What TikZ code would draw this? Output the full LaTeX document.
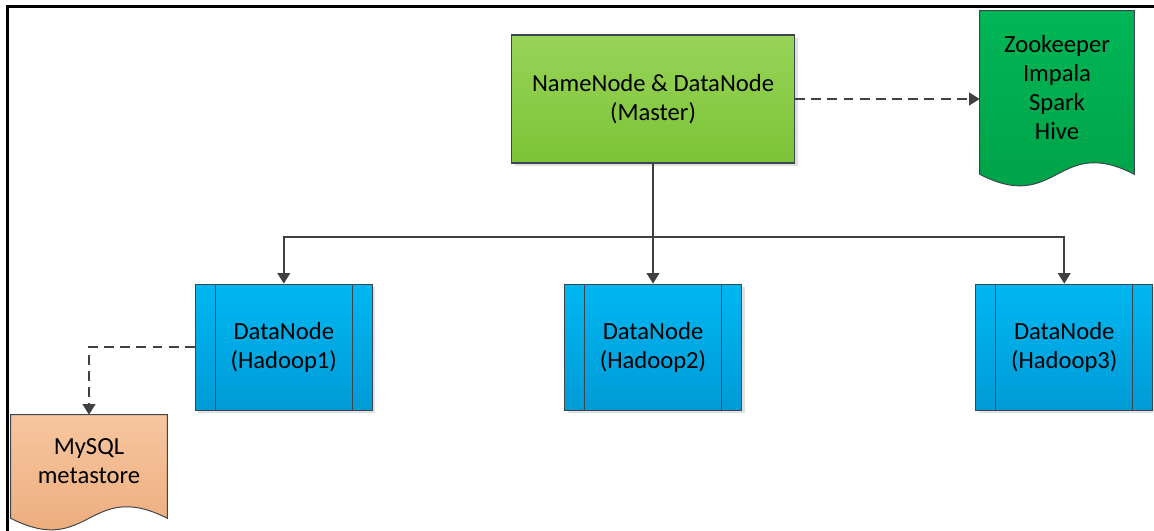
\documentclass[tikz,border=0pt]{standalone}
\usepackage{fontspec}
\setmainfont{Carlito}
\usepackage{tikz}
\usetikzlibrary{arrows.meta,positioning,calc,shadows,backgrounds}
\definecolor{masterTop}{RGB}{152,212,88}
\definecolor{masterBot}{RGB}{124,195,55}
\definecolor{zkTop}{RGB}{0,182,86}
\definecolor{zkBot}{RGB}{0,160,70}
\definecolor{blueTop}{RGB}{0,183,240}
\definecolor{blueBot}{RGB}{0,155,215}
\definecolor{sqlTop}{RGB}{246,198,160}
\definecolor{sqlBot}{RGB}{236,168,118}
\definecolor{boxLine}{RGB}{60,70,78}
\definecolor{lineGray}{RGB}{64,64,64}
% wavy document outline behind a named node
\newcommand{\docshape}[3]{%
  \path[draw=boxLine, line width=0.7pt, top color=#2, bottom color=#3]
    (#1.north west) -- (#1.north east) -- ($(#1.south east)+(0,-10)$)
    .. controls ($(#1.south)+(0,30)$) and ($(#1.south)+(0,-50)$) .. ($(#1.south west)+(0,-10)$) -- cycle;}

\begin{document}
\begin{tikzpicture}[
  x=0.025cm, y=0.025cm,
  font=\fontsize{17.5}{20.6}\selectfont,
  box/.style={draw=boxLine, line width=0.8pt, minimum width=7.075cm, minimum height=3.2cm,
              align=center, drop shadow={shadow xshift=2.2pt, shadow yshift=-2.2pt, fill=black!12, opacity=1}},
  dnode/.style={box, minimum width=4.425cm, minimum height=3.15cm,
                top color=blueTop, bottom color=blueBot,
                path picture={\draw[boxLine, line width=0.8pt]
                  ($(path picture bounding box.north west)+(20,0)$) -- ($(path picture bounding box.south west)+(20,0)$)
                  ($(path picture bounding box.north east)+(-20,0)$) -- ($(path picture bounding box.south east)+(-20,0)$);}},
  doc/.style={minimum width=3.85cm, align=center},
  arr/.style={-{Triangle[length=7.5pt,width=9pt]}, line width=1.3pt, draw=lineGray},
  dasharr/.style={arr, dash pattern=on 7pt off 4.5pt}
]
  \useasboundingbox (0,0) rectangle (1154,-531);
  \draw[line width=1.8pt] (7.5,-531) -- (7.5,-6.5) -- (1154,-6.5);

  % Master
  \node[box, top color=masterTop, bottom color=masterBot] (master) at (653,-99)
    {NameNode \& DataNode\\(Master)};

  % DataNodes
  \node[dnode, below=3cm of master] (h2) {DataNode\\(Hadoop2)};
  \node[dnode, left=4.775cm of h2] (h1) {DataNode\\(Hadoop1)};
  \node[dnode, right=5.825cm of h2] (h3) {DataNode\\(Hadoop3)};

  % Services and metastore
  \node[doc, minimum height=3.825cm] (zk) at (1057,-87.5)
    {Zookeeper\\Impala\\Spark\\Hive};
  \node[doc, minimum width=3.9cm, minimum height=2.325cm] (mysql) at (89,-461.5)
    {MySQL\\metastore};
  \begin{scope}[on background layer]
    \docshape{zk}{zkTop}{zkBot}
    \docshape{mysql}{sqlTop}{sqlBot}
  \end{scope}

  % Arrows
  \coordinate (bus) at (653,-237);
  \draw[arr] (master) -- (bus) -| (h1);
  \draw[arr] (bus) -- (h2);
  \draw[arr] (bus) -| (h3);
  \draw[dasharr] (master.east) -- (master.east -| zk.west);
  \draw[dasharr] (h1) -| (mysql);
\end{tikzpicture}
\end{document}
